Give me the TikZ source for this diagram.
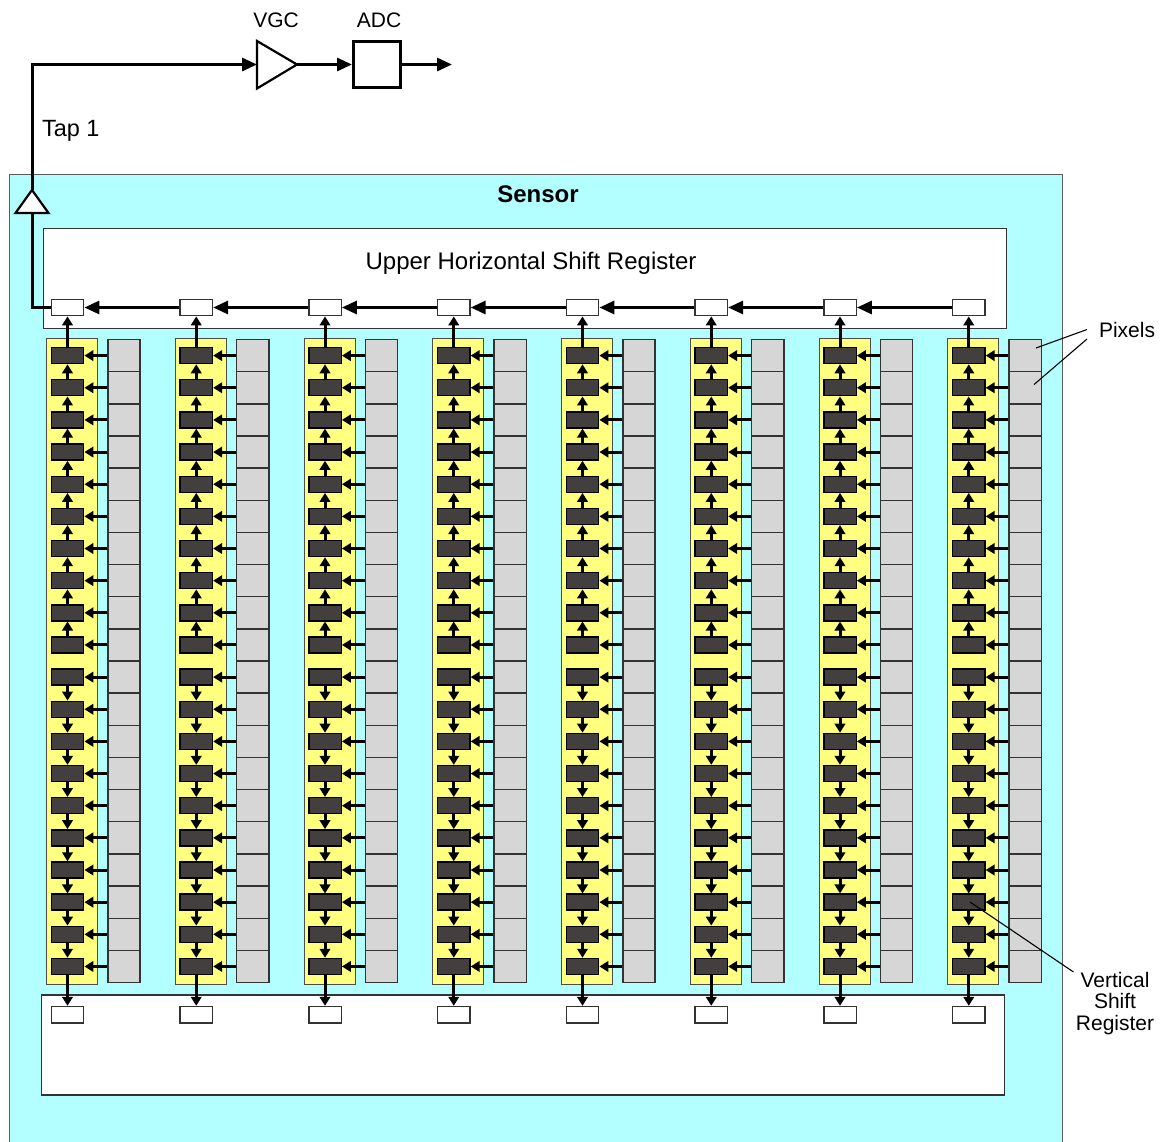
\documentclass[tikz,border=0pt]{standalone}
\usepackage{fontspec}
\setmainfont{Liberation Sans}
\usetikzlibrary{arrows.meta}
\definecolor{cyanbg}{HTML}{B3FFFF}
\definecolor{yel}{HTML}{FFFF80}
\definecolor{darkreg}{HTML}{433F3E}
\definecolor{lgray}{HTML}{D6D6D6}
\definecolor{edge}{HTML}{333333}
\begin{document}
\begin{tikzpicture}[x=1pt,y=-1pt,
  arr/.style={line width=3pt,-{Triangle[length=9pt,width=10.5pt]}},
  bigarr/.style={line width=3pt,-{Triangle[length=15pt,width=13pt]}},
  wire/.style={line width=3pt},
  lead/.style={line width=1.1pt},
  lbl/.style={font=\fontsize{21}{23}\selectfont},
  biglbl/.style={font=\fontsize{24}{26}\selectfont},
  regbox/.style={draw=edge,line width=1.4pt,fill=white,inner sep=0pt,anchor=north west},
  yelbox/.style={draw=black!70,line width=1.2pt,fill=yel,inner sep=0pt,anchor=north west,minimum width=51pt,minimum height=646.5pt},
  pixbox/.style={draw=edge,line width=1.4pt,fill=lgray,inner sep=0pt,minimum width=32.3pt,minimum height=32.15pt},
  darkbox/.style={draw=black,line width=1.4pt,fill=darkreg,inner sep=0pt,minimum width=32.4pt,minimum height=16pt},
  smallbox/.style={draw=edge,line width=1.4pt,fill=white,inner sep=0pt,minimum width=32.4pt,minimum height=16.4pt}]
\useasboundingbox (0,0) rectangle (1167,1141);
% sensor
\node[draw=black!65,line width=1.2pt,fill=cyanbg,inner sep=0pt,anchor=north west,minimum width=1052.5pt,minimum height=975pt] (sensor) at (9,174) {};
\node[biglbl,font=\fontsize{24}{26}\selectfont\bfseries,anchor=base] (sensorlab) at (538,202) {Sensor};
% registers
\node[regbox,minimum width=963pt,minimum height=100pt] (hsr) at (43,228) {};
\node[biglbl,anchor=base] (hsrlab) at (531,269) {Upper Horizontal Shift Register};
\node[regbox,minimum width=963pt,minimum height=100pt] (lsr) at (41,994.3) {};
% columns
\foreach \c in {0,...,7} {
  \pgfmathsetmacro\dx{\c*128.75}
  \node[yelbox] (y\c) at (46+\dx,337.5) {};
  \node[smallbox] (u\c) at (67.5+\dx,307.5) {};
  \node[smallbox] (b\c) at (67.5+\dx,1014.7) {};
  \foreach \r in {0,...,19} {
    \node[pixbox] (p\c-\r) at (124+\dx,355.6+\r*32.15) {};
    \node[darkbox] (d\c-\r) at (67.5+\dx,355.6+\r*32.15) {};
    \draw[arr] (p\c-\r.west) -- (d\c-\r.east);
  }
  \draw[arr] (d\c-0.north) -- (u\c.south);
  \foreach \r in {1,...,9} {
    \pgfmathtruncatemacro\prv{\r-1}
    \draw[arr] (d\c-\r.north) -- (d\c-\prv.south);
  }
  \foreach \r in {10,...,18} {
    \pgfmathtruncatemacro\nxt{\r+1}
    \draw[arr] (d\c-\r.south) -- (d\c-\nxt.north);
  }
  \draw[arr] (d\c-19.south) -- (b\c.north);
}
\foreach \c in {1,...,7} {
  \pgfmathtruncatemacro\prv{\c-1}
  \draw[bigarr] (u\c.west) -- (u\prv.east);
}
% output chain
\coordinate (tapbase) at (32,213);
\coordinate (tapapex) at (32,190);
\coordinate (corner) at (32,64.5);
\coordinate (vgcin) at (257,64.5);
\coordinate (vgcout) at (297,64.5);
\coordinate (outend) at (452,64.5);
\draw[wire] (u0.west) -| (tapbase);
\draw[bigarr] (tapapex) -- (corner) -- (vgcin);
\draw[line width=2.2pt,fill=white,line join=miter] (15.5,213) -- (48.5,213) -- (tapapex) -- cycle;
\draw[line width=2.2pt,fill=white,line join=miter] (257,41) -- (257,88.5) -- (vgcout) -- cycle;
\node[draw=black,line width=3pt,fill=white,inner sep=0pt,minimum width=47pt,minimum height=46pt] (adc) at (377,64.5) {};
\draw[bigarr] (vgcout) -- (adc.west);
\draw[bigarr] (adc.east) -- (outend);
\node[lbl] (vgclab) at (276,20) {VGC};
\node[lbl] (adclab) at (379,20) {ADC};
\node[lbl,font=\fontsize{23.5}{25}\selectfont,anchor=base west] (taplab) at (38.5,136) {Tap 1};
% labels
\node[lbl,anchor=west] (pixlab) at (1095.5,330) {Pixels};
\coordinate (pixa) at (1087,329.5);
\coordinate (pixb) at (1087,339);
\coordinate (pixta) at (1036,348);
\coordinate (pixtb) at (1034,384.5);
\draw[lead] (pixa) -- (pixta);
\draw[lead] (pixb) -- (pixtb);
\node[lbl,align=center,font=\fontsize{21}{21.5}\selectfont] (vsrlab) at (1115,1003.5) {Vertical\\Shift\\Register};
\coordinate (vsra) at (1073.5,972);
\coordinate (vsrt) at (970,902);
\draw[lead] (vsra) -- (vsrt);
\end{tikzpicture}
\end{document}
